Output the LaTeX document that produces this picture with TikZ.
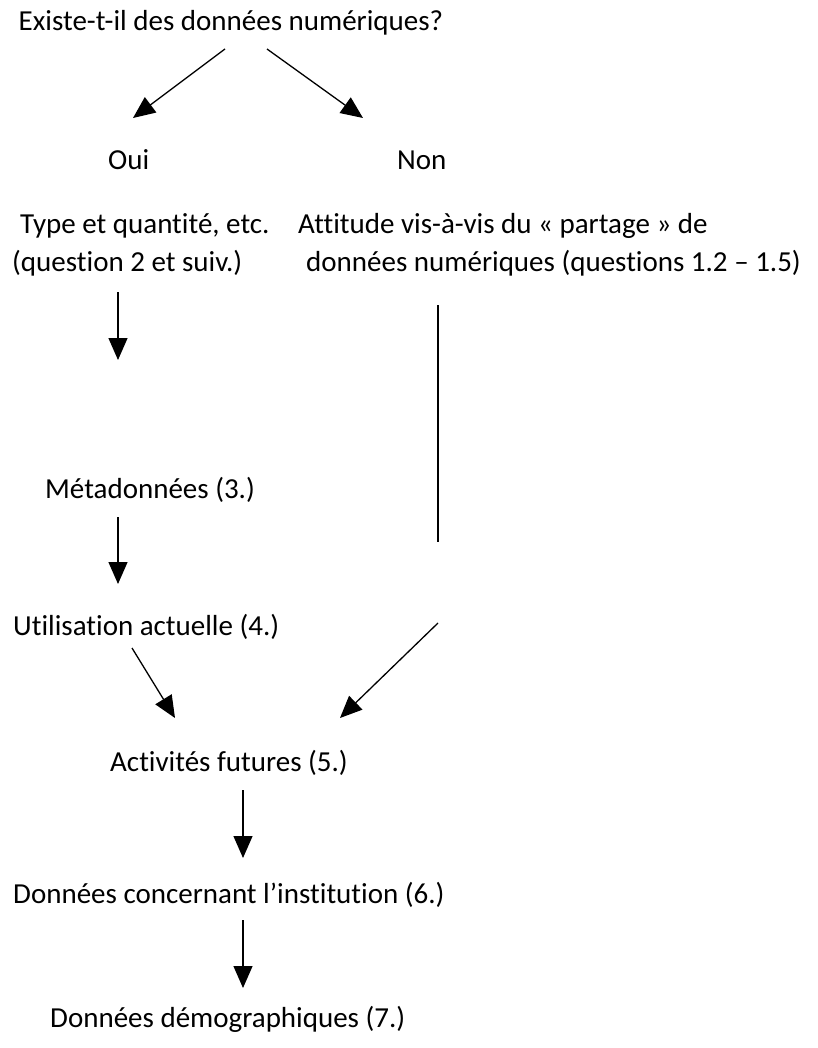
\documentclass[tikz,border=0pt]{standalone}
\usepackage{fontspec}
\setmainfont{Carlito}[Ligatures=NoCommon]
\usetikzlibrary{arrows.meta}
\begin{document}
\begin{tikzpicture}[x=1pt,y=-1pt,
  txt/.style={inner sep=0pt, anchor=west, font=\fontsize{29}{34}\selectfont},
  arr/.style={line width=1.3pt, -{Triangle[length=22pt,width=19pt]}},
  ln/.style={line width=1.3pt}]
\useasboundingbox (0,0) rectangle (818,1048);
\fill[white] (0,0) rectangle (818,1048);
% texts
\node[txt, anchor=center] (q) at (231,23) {Existe-t-il des données numériques?};
\node[txt] (oui) at (108,160) {Oui};
\node[txt] (non) at (397,160) {Non};
\node[txt] (type1) at (20,226) {Type et quantité, etc.};
\node[txt] (type2) at (12,263) {(question 2 et suiv.)};
\node[txt] (att1) at (298,226) {Attitude vis-à-vis du « partage » de};
\node[txt] (att2) at (306,263) {données numériques (questions 1.2 – 1.5)};
\node[txt] (meta) at (45,490) {Métadonnées (3.)};
\node[txt] (util) at (13,627) {Utilisation actuelle (4.)};
\node[txt] (act) at (110,763) {Activités futures (5.)};
\node[txt] (inst) at (13,895) {Données concernant l’institution (6.)};
\node[txt] (demo) at (50,1019) {Données démographiques (7.)};
% connector end points
\coordinate (a1s) at (225,49);  \coordinate (a1e) at (133,118);
\coordinate (a2s) at (267,49);  \coordinate (a2e) at (363,118);
\coordinate (a3s) at (118,292); \coordinate (a3e) at (118,360);
\coordinate (l1s) at (438,305); \coordinate (l1e) at (438,542);
\coordinate (a4s) at (118,517); \coordinate (a4e) at (118,584);
\coordinate (a5s) at (132,648); \coordinate (a5e) at (175,718);
\coordinate (a6s) at (438,623); \coordinate (a6e) at (340,718);
\coordinate (a7s) at (243,790); \coordinate (a7e) at (243,858);
\coordinate (a8s) at (243,920); \coordinate (a8e) at (243,988);
% connectors
\draw[arr] (a1s) -- (a1e);
\draw[arr] (a2s) -- (a2e);
\draw[arr] (a3s) -- (a3e);
\draw[ln]  (l1s) -- (l1e);
\draw[arr] (a4s) -- (a4e);
\draw[arr] (a5s) -- (a5e);
\draw[arr] (a6s) -- (a6e);
\draw[arr] (a7s) -- (a7e);
\draw[arr] (a8s) -- (a8e);
\end{tikzpicture}
\end{document}
